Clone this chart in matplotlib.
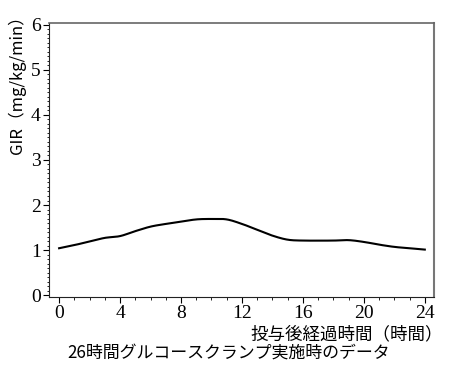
import matplotlib
matplotlib.use("Agg")
import matplotlib.pyplot as plt
from matplotlib.ticker import MultipleLocator
import numpy as np

hours = [0, 1, 2, 3, 4, 5, 6, 7, 8, 9, 10, 11, 12, 13, 14, 15, 16, 17, 18, 19, 20, 21, 22, 23, 24]
gir = [1.04, 1.11, 1.19, 1.27, 1.31, 1.42, 1.52, 1.58, 1.63, 1.68, 1.69, 1.68, 1.58,
       1.45, 1.32, 1.23, 1.21, 1.21, 1.21, 1.22, 1.18, 1.12, 1.07, 1.04, 1.01]
xticks = [0, 4, 8, 12, 16, 20, 24]
yticks = [0, 1, 2, 3, 4, 5, 6]
xlabel = "投与後経過時間（時間）"
ylabel = "GIR（mg/kg/min）"
caption = "26時間グルコースクランプ実施時のデータ"

cjk = ["Noto Sans CJK JP", "DejaVu Sans"]

fig = plt.figure(figsize=(4.5, 3.78), dpi=100)
ax = fig.add_axes([0.109, 0.214, 0.855, 0.725])

xs = np.array(hours, float)
ys = np.array(gir, float)
xf = np.linspace(0, 24, 400)

def hermite(x, y, xq):
    out = np.empty_like(xq)
    n = len(x)
    m = np.gradient(y, x)
    for k, q in enumerate(xq):
        i = min(np.searchsorted(x, q, side="right") - 1, n - 2)
        h = x[i + 1] - x[i]
        t = (q - x[i]) / h
        h00 = 2*t**3 - 3*t**2 + 1
        h10 = t**3 - 2*t**2 + t
        h01 = -2*t**3 + 3*t**2
        h11 = t**3 - t**2
        out[k] = h00*y[i] + h10*h*m[i] + h01*y[i+1] + h11*h*m[i+1]
    return out

yf = hermite(xs, ys, xf)
ax.plot(xf, yf, color="black", lw=1.5)

ax.set_xlim(-0.66, 24.59)
ax.set_ylim(-0.045, 6.04)
ax.set_xticks(xticks)
ax.set_yticks(yticks)
ax.xaxis.set_minor_locator(MultipleLocator(1))
ax.yaxis.set_minor_locator(MultipleLocator(0.1))
ax.tick_params(axis="both", which="major", direction="out", length=4, width=0.8,
               labelsize=14, pad=2)
ax.tick_params(axis="y", which="minor", direction="out", length=1.5, width=0.6)
ax.tick_params(axis="x", which="minor", direction="out", length=2, width=0.6)
for lab in ax.get_xticklabels() + ax.get_yticklabels():
    lab.set_fontfamily("Liberation Serif")

ax.spines["left"].set_color("#222222")
ax.spines["bottom"].set_color("#222222")
ax.spines["top"].set_color("#666666")
ax.spines["right"].set_color("#777777")
ax.spines["right"].set_linewidth(1.5)
ax.spines["top"].set_linewidth(1.2)

fig.text(0.984, 0.115, xlabel, ha="right", va="center", fontsize=12.6, family=cjk)
fig.text(0.508, 0.068, caption, ha="center", va="center", fontsize=12.2, family=cjk)
fig.text(0.038, 0.788, ylabel, ha="center", va="center", rotation=90, fontsize=12, family=cjk)

fig.savefig("out.png", dpi=100)
